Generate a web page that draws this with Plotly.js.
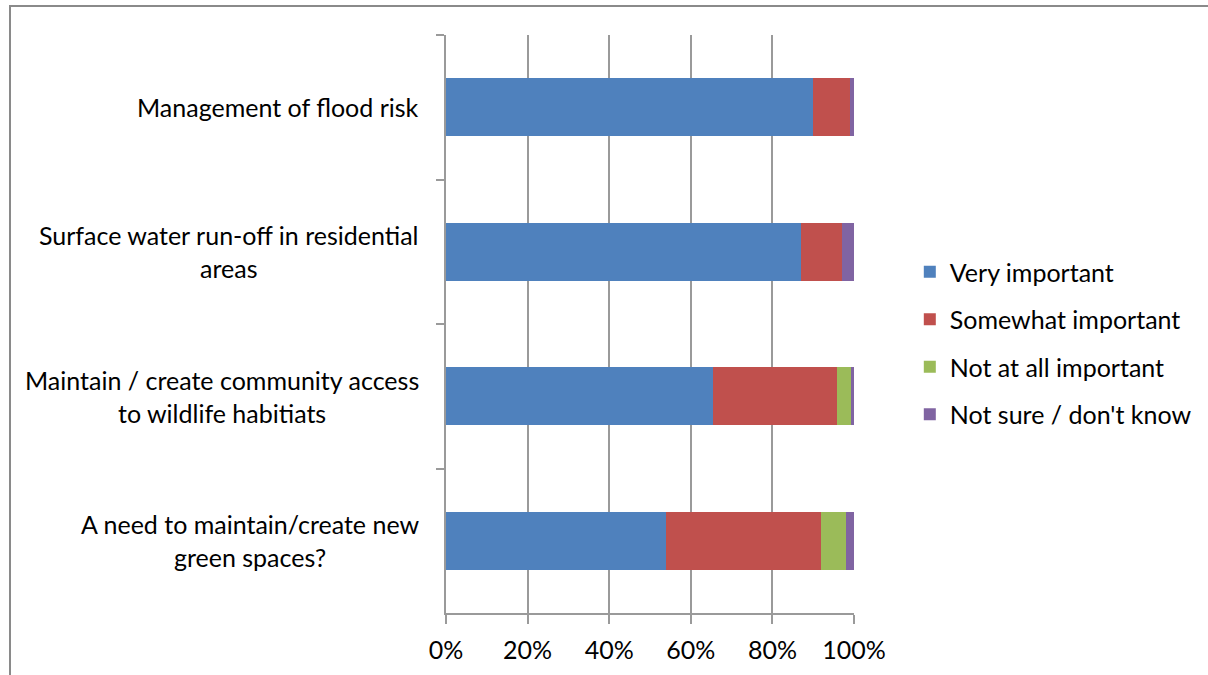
<!DOCTYPE html>
<html>
<head>
<meta charset="utf-8">
<script src="https://cdn.plot.ly/plotly-3.0.1.min.js"></script>
<style>
  html, body { margin: 0; padding: 0; background: #fff; }
  #wrap { position: relative; width: 1208px; height: 675px; overflow: hidden; }
  #chart { width: 1208px; height: 675px; }
  #frame { position: absolute; left: 9px; top: 5px; width: 1300px; height: 800px;
           border-left: 2px solid #8a8a8a; border-top: 2px solid #8a8a8a; pointer-events: none; }
</style>
</head>
<body>
<div id="wrap">
  <div id="chart"></div>
  <div id="frame"></div>
</div>
<script>
// Survey topics, listed top to bottom
const categories = [
  "Management of flood risk",
  "Surface water run-off in residential<br>areas",
  "Maintain / create community access<br>to wildlife habitiats",
  "A need to maintain/create new<br>green spaces?"
];

// Share of responses per topic
const veryImportant     = [0.90, 0.87, 0.655, 0.54];
const somewhatImportant = [0.09, 0.10, 0.304, 0.38];
const notAtAllImportant = [0.00, 0.00, 0.034, 0.06];
const notSure           = [0.01, 0.03, 0.007, 0.02];

const seriesNames  = ["Very important", "Somewhat important", "Not at all important", "Not sure / don't know"];
const seriesValues = [veryImportant, somewhatImportant, notAtAllImportant, notSure];
const seriesColors = ["#4F81BD", "#C0504D", "#9BBB59", "#8064A2"];

const xTicks = [0, 0.2, 0.4, 0.6, 0.8, 1.0];
const xTickText = ["0%", "20%", "40%", "60%", "80%", "100%"];

const FONT = "Lato, 'Open Sans', sans-serif";
const FS = 25;

const traces = seriesNames.map((name, i) => ({
  type: "bar",
  orientation: "h",
  name: name,
  y: categories,
  x: seriesValues[i],
  marker: { color: seriesColors[i], line: { width: 0 } },
  legendgroup: "g" + i,
  hoverinfo: "x+name"
}));

// Category labels drawn as centred multi-line text beside the axis
const labelAnnotations = categories.map(c => ({
  xref: "paper", yref: "y",
  x: -0.062, y: c,
  xanchor: "right", yanchor: "middle",
  text: c, showarrow: false, align: "center",
  font: { family: FONT, size: FS, color: "#000" }
}));

const layout = {
  width: 1208, height: 675,
  margin: { l: 446, r: 353, t: 35, b: 62 },
  paper_bgcolor: "#fff", plot_bgcolor: "#fff",
  barmode: "stack",
  bargap: 0.6,
  font: { family: FONT, size: FS, color: "#000" },
  xaxis: {
    range: [0, 1],
    tickvals: xTicks, ticktext: xTickText,
    showgrid: true, gridcolor: "#9a9a9a", gridwidth: 2,
    zeroline: false,
    showline: true, linecolor: "#9a9a9a", linewidth: 2,
    ticks: "outside", ticklen: 9, tickcolor: "#9a9a9a", tickwidth: 2,
    ticklabelstandoff: 5,
    tickfont: { family: FONT, size: FS, color: "#000" },
    fixedrange: true
  },
  yaxis: {
    type: "category",
    autorange: "reversed",
    showticklabels: false,
    showgrid: false, zeroline: false,
    showline: true, linecolor: "#9a9a9a", linewidth: 2,
    ticks: "outside", tickson: "boundaries", ticklen: 8, tickcolor: "#9a9a9a", tickwidth: 2,
    fixedrange: true
  },
  legend: {
    x: 1.134, y: 0.467, xanchor: "left", yanchor: "middle",
    traceorder: "grouped", tracegroupgap: 12,
    font: { family: FONT, size: FS, color: "#000" },
    bgcolor: "rgba(0,0,0,0)"
  },
  annotations: labelAnnotations,
  showlegend: true
};

Plotly.newPlot("chart", traces, layout, { displayModeBar: false, staticPlot: true });
</script>
</body>
</html>
